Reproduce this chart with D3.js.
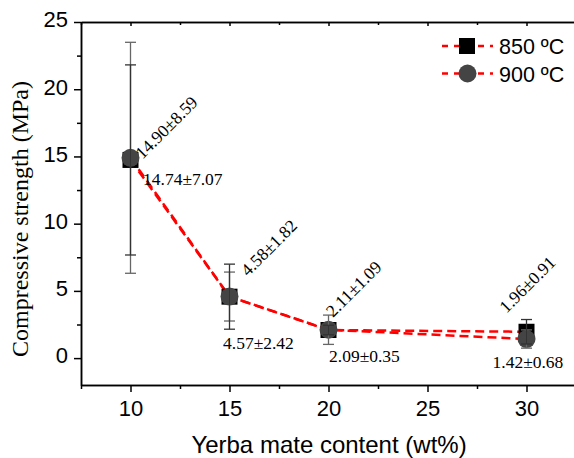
<!DOCTYPE html>
<html>
<head>
<meta charset="utf-8">
<script src="https://cdn.jsdelivr.net/npm/d3@7"></script>
<style>
  body { margin: 0; background: #fff; }
  svg { display: block; }
  .axis text { font-family: "Liberation Sans", Arial, sans-serif; font-size: 22px; fill: #000; }
  .axis path, .axis line { stroke: #000; stroke-width: 1.5px; }
  .val-label { font-family: "Liberation Serif", "Times New Roman", serif; font-size: 17.5px; fill: #000; }
</style>
</head>
<body>
<div id="chart"></div>
<script>
// data
const content = [10, 15, 20, 30];           // wt%
const strength850 = [14.74, 4.57, 2.09, 1.96];
const error850 = [7.07, 2.42, 0.35, 0.91];
const strength900 = [14.90, 4.58, 2.11, 1.42];
const error900 = [8.59, 1.82, 1.09, 0.68];
const seriesNames = ['850 ºC', '900 ºC'];
const xTicks = [10, 15, 20, 25, 30];
const xMinor = [7.5, 12.5, 17.5, 22.5, 27.5, 32.5];
const yTicks = [0, 5, 10, 15, 20, 25];
const yMinor = [2.5, 7.5, 12.5, 17.5, 22.5];

// where each value label sits relative to its point (layout only)
const labelPos850 = [
	{ dx: 12.5, dy: 25, rot: 0 },
	{ dx: -6.5, dy: 52.6, rot: 0 },
	{ dx: 0.5, dy: 31.7, rot: 0 },
	{ dx: -20, dy: -18, rot: -45 }
];
const labelPos900 = [
	{ dx: 12, dy: 2, rot: -45 },
	{ dx: 18.5, dy: -19.5, rot: -45 },
	{ dx: 4.5, dy: -11.7, rot: -45 },
	{ dx: -34, dy: 29, rot: 0 }
];

const width = 574, height = 458;
const frame = { left: 81, right: 576, top: 22, bottom: 385 };

const svg = d3.select('#chart').append('svg')
	.attr('width', width)
	.attr('height', height);

const x = d3.scaleLinear().domain([7.5, 32.5]).range([frame.left, frame.right]);
const y = d3.scaleLinear().domain([-2, 25]).range([frame.bottom, frame.top]);

const build = (vals, errs, pos) => content.map((c, i) => ({
	c, v: vals[i], e: errs[i], pos: pos[i]
}));
const s850 = build(strength850, error850, labelPos850);
const s900 = build(strength900, error900, labelPos900);

// axes
svg.append('g').attr('class', 'axis')
	.attr('transform', `translate(0,${frame.bottom})`)
	.call(d3.axisBottom(x).tickValues(xTicks).tickSize(7).tickPadding(8).tickSizeOuter(0));
svg.append('g').attr('class', 'axis')
	.attr('transform', `translate(0,${frame.bottom})`)
	.call(d3.axisBottom(x).tickValues(xMinor).tickSize(4).tickFormat('').tickSizeOuter(0));
svg.append('g').attr('class', 'axis')
	.attr('transform', `translate(0,${frame.top})`)
	.call(d3.axisTop(x).tickValues(xTicks).tickSize(-4).tickFormat('').tickSizeOuter(0));
svg.append('g').attr('class', 'axis')
	.attr('transform', `translate(0,${frame.top})`)
	.call(d3.axisTop(x).tickValues(xMinor).tickSize(-3).tickFormat('').tickSizeOuter(0));

const yAxis = svg.append('g').attr('class', 'axis')
	.attr('transform', `translate(${frame.left},0)`)
	.call(d3.axisLeft(y).tickValues(yTicks).tickSize(7).tickPadding(6).tickSizeOuter(0));
yAxis.selectAll('text').attr('dy', '0.22em');
svg.append('g').attr('class', 'axis')
	.attr('transform', `translate(${frame.left},0)`)
	.call(d3.axisLeft(y).tickValues(yMinor).tickSize(4).tickFormat('').tickSizeOuter(0));
svg.append('g').attr('class', 'axis')
	.attr('transform', `translate(${frame.right},0)`)
	.call(d3.axisRight(y).tickValues([]).tickSizeOuter(0));

// axis titles
svg.append('text')
	.attr('x', 329).attr('y', 453)
	.attr('text-anchor', 'middle')
	.style('font-family', '"Liberation Sans", Arial, sans-serif')
	.style('font-size', '24px')
	.text('Yerba mate content (wt%)');
svg.append('text')
	.attr('transform', 'translate(28,219) rotate(-90)')
	.attr('text-anchor', 'middle')
	.style('font-family', '"Liberation Serif", "Times New Roman", serif')
	.style('font-size', '24px')
	.text('Compressive strength (MPa)');

// dashed red lines
const line = d3.line().x(d => x(d.c)).y(d => y(d.v));
[s900, s850].forEach(s => {
	svg.append('path')
		.datum(s)
		.attr('d', line)
		.attr('fill', 'none')
		.attr('stroke', '#ff0000')
		.attr('stroke-width', 2.5)
		.attr('stroke-dasharray', '9,5');
});

// markers
const sq = 16;
svg.append('g').selectAll('rect')
	.data(s850)
	.join('rect')
		.attr('x', d => x(d.c) - sq / 2)
		.attr('y', d => y(d.v) - sq / 2)
		.attr('width', sq)
		.attr('height', sq)
		.attr('fill', '#000');
svg.append('g').selectAll('circle')
	.data(s900)
	.join('circle')
		.attr('cx', d => x(d.c))
		.attr('cy', d => y(d.v))
		.attr('r', 9)
		.attr('fill', '#444');

// error bars
const drawErr = (s, colour) => {
	const g = svg.append('g').attr('stroke', colour).attr('stroke-width', 1.3);
	const cap = 5.5;
	s.forEach(d => {
		const cx = x(d.c);
		g.append('line').attr('x1', cx).attr('x2', cx)
			.attr('y1', y(d.v - d.e)).attr('y2', y(d.v + d.e));
		[d.v - d.e, d.v + d.e].forEach(v => {
			g.append('line').attr('x1', cx - cap).attr('x2', cx + cap)
				.attr('y1', y(v)).attr('y2', y(v));
		});
	});
};
drawErr(s900, '#666');
drawErr(s850, '#333');

// value labels
[s850, s900].forEach(s => {
	svg.append('g').selectAll('text')
		.data(s)
		.join('text')
			.attr('class', 'val-label')
			.attr('transform', d => `translate(${x(d.c) + d.pos.dx},${y(d.v) + d.pos.dy}) rotate(${d.pos.rot})`)
			.text(d => `${d.v.toFixed(2)}±${d.e.toFixed(2)}`);
});

// legend
const legend = svg.append('g');
seriesNames.forEach((name, i) => {
	const ly = 46 + i * 27.5;
	legend.append('line')
		.attr('x1', 442).attr('x2', 493)
		.attr('y1', ly).attr('y2', ly)
		.attr('stroke', '#ff0000')
		.attr('stroke-width', 2.5)
		.attr('stroke-dasharray', '6,6');
	if (i === 0) {
		legend.append('rect')
			.attr('x', 467 - sq / 2).attr('y', ly - sq / 2)
			.attr('width', sq).attr('height', sq)
			.attr('fill', '#000');
	} else {
		legend.append('circle')
			.attr('cx', 467.5).attr('cy', ly).attr('r', 9)
			.attr('fill', '#444');
	}
	legend.append('text')
		.attr('x', 499).attr('y', ly + 8)
		.style('font-family', '"Liberation Sans", Arial, sans-serif')
		.style('font-size', '21.5px')
		.text(name);
});
</script>
</body>
</html>
